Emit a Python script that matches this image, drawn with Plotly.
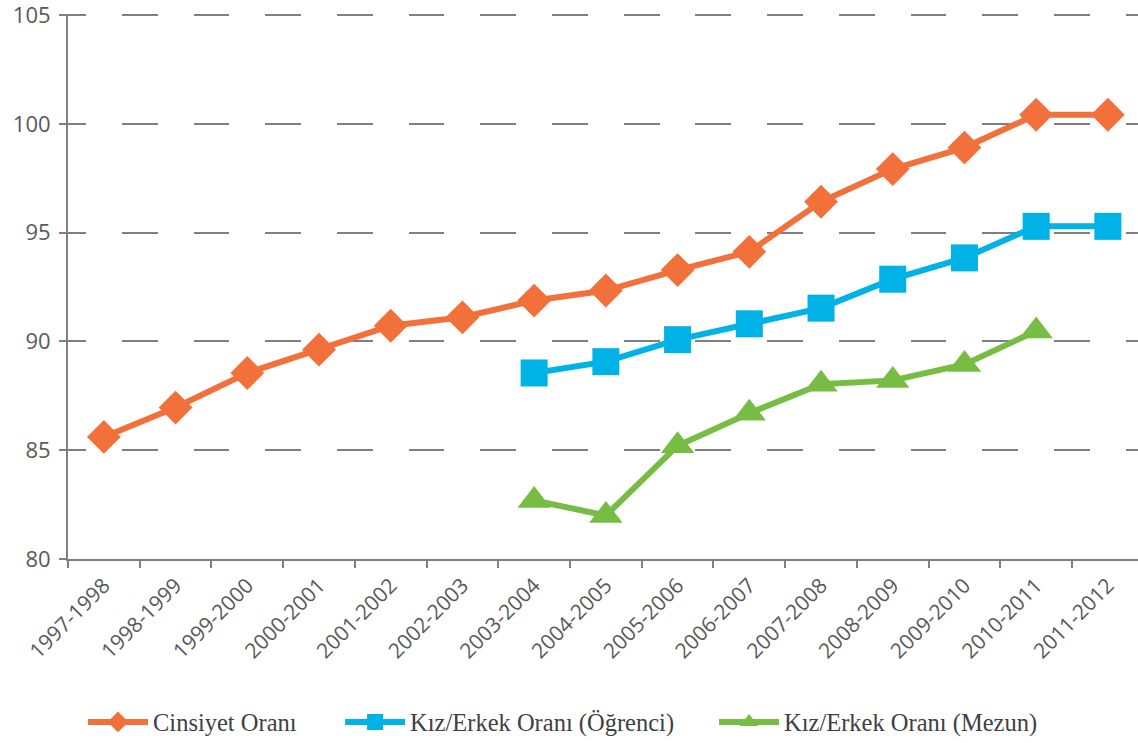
import plotly.graph_objects as go

categories = ["1997-1998", "1998-1999", "1999-2000", "2000-2001", "2001-2002",
              "2002-2003", "2003-2004", "2004-2005", "2005-2006", "2006-2007",
              "2007-2008", "2008-2009", "2009-2010", "2010-2011", "2011-2012"]

cinsiyet = [85.61, 86.96, 88.55, 89.62, 90.72, 91.11, 91.88, 92.34, 93.28, 94.12,
            96.42, 97.92, 98.91, 100.42, 100.42]
ogrenci = [None, None, None, None, None, None, 88.55, 89.07, 90.08, 90.81,
           91.53, 92.86, 93.84, 95.29, 95.29]
mezun = [None, None, None, None, None, None, 82.69, 82.00, 85.21, 86.70,
         88.03, 88.21, 88.94, 90.48, None]

names = ["Cinsiyet Oranı", "Kız/Erkek Oranı (Öğrenci)", "Kız/Erkek Oranı (Mezun)"]
colors = ["#F2703A", "#00B2E5", "#77BD43"]
symbols = ["diamond", "square", "triangle-up"]
sizes = [26, 27, 29]
legend_ids = ["legend", "legend2", "legend3"]
legend_x = [0.0140, 0.2543, 0.6038]

fig = go.Figure()
for vals, name, col, sym, sz, lg in zip([cinsiyet, ogrenci, mezun], names, colors,
                                         symbols, sizes, legend_ids):
    fig.add_trace(go.Scatter(
        x=categories, y=vals, name=name, mode="lines+markers",
        line=dict(color=col, width=6),
        marker=dict(symbol=sym, size=sz, color=col, line=dict(width=0)),
        connectgaps=False, legend=lg,
    ))

grid_col = "#7F7F7F"
legend_font = dict(family="Liberation Serif", size=24.5, color="#404040")
layout_legends = {}
for lg, lx in zip(legend_ids, legend_x):
    layout_legends[lg] = dict(orientation="h", x=lx, xanchor="left", y=-0.299,
                              yanchor="middle", font=legend_font, itemwidth=60,
                              bgcolor="rgba(0,0,0,0)")

fig.update_layout(
    width=1138, height=743,
    margin=dict(l=68, r=0, t=14, b=184, autoexpand=False),
    paper_bgcolor="white", plot_bgcolor="white",
    showlegend=True,
    xaxis=dict(
        type="category", range=[-0.5, 14.42], automargin=False,
        showline=True, linecolor=grid_col, linewidth=2,
        ticks="outside", ticklen=7, tickcolor=grid_col, tickwidth=2,
        tickson="boundaries",
        showgrid=False, zeroline=False,
        tickangle=-45,
        tickfont=dict(family="Open Sans", size=21, color="#595959"),
        ticklabelstandoff=4,
    ),
    yaxis=dict(
        range=[80, 105.05], tickvals=[80, 85, 90, 95, 100, 105], automargin=False,
        showline=True, linecolor=grid_col, linewidth=2,
        ticks="outside", ticklen=7, tickcolor=grid_col, tickwidth=2,
        showgrid=True, gridcolor=grid_col, gridwidth=1.6,
        griddash="17.9px,35.9px,17.9px,0px",
        zeroline=False,
        tickfont=dict(family="Open Sans", size=22, color="#595959"),
        ticklabelstandoff=4, ticklabeloverflow="allow",
    ),
    **layout_legends,
)

# remove the default page margin so the 1138x743 figure fills the window exactly
fig.write_html("out.html",
               config={"displayModeBar": False},
               post_script="document.body.style.margin='0';document.body.style.overflow='hidden';")
